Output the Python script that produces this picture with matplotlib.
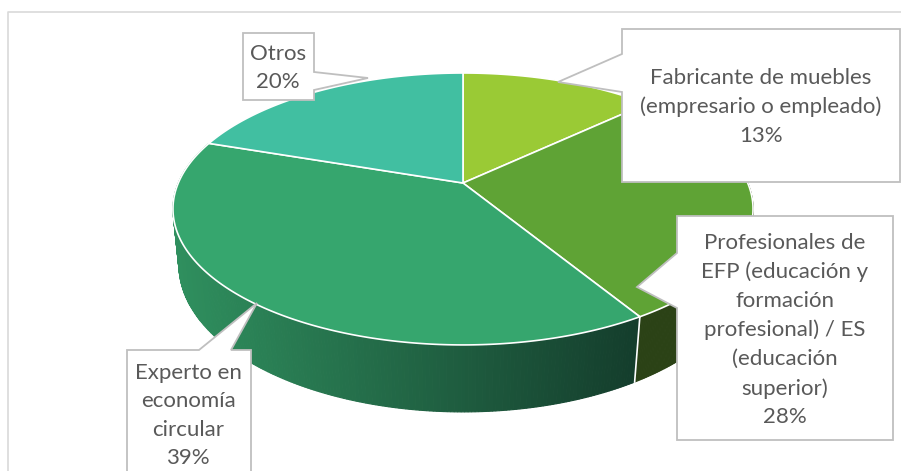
#!/usr/bin/env python3
# -*- coding: utf-8 -*-
import numpy as np
import matplotlib
matplotlib.use('Agg')
import matplotlib.pyplot as plt

# data
labels = ['Fabricante de muebles\n(empresario o empleado)',
          'Profesionales de\nEFP (educación y\nformación\nprofesional) / ES\n(educación\nsuperior)',
          'Experto en\neconomía\ncircular',
          'Otros']
values = [13.0, 28.3, 38.9, 19.8]

colors = ['#9ACA35', '#5FA335', '#36A66E', '#41BFA1']
side_left = ['#2B4216', '#2B4216', '#2F8F5E', '#2F8F5E']
side_right = ['#2B4216', '#2B4216', '#143D2C', '#143D2C']

# callout outlines (pixel positions), text centre goes with them
callouts = [
    ([(622, 29), (900, 29), (900, 182), (622, 182), (622, 92), (558, 82), (622, 54)], (761, 107)),
    ([(677, 216), (893, 216), (893, 440), (677, 440), (677, 308), (637, 287), (677, 253)], (785, 330)),
    ([(127, 350), (199, 350), (257, 303), (231, 350), (251, 350), (251, 480), (127, 480)], (188, 415.5)),
    ([(243, 33), (314, 33), (314, 72), (368, 78), (314, 90), (314, 100), (243, 100)], (278, 68)),
]


def project(theta, cx, cy, A, B, k):
    # clockwise angle from the top of the circle -> screen position
    x = np.sin(theta)
    y = np.cos(theta)
    w = 1 + k*y
    return cx + B*x/w, cy - A*y/w


def top_edge(theta):
    return project(theta, 463., 183., 131., 284.7, 0.191)


def bottom_edge(theta):
    return project(theta, 463., 238.5, 142.2, 279.4, 0.18)


def mix(c1, c2, t):
    c1 = np.array(matplotlib.colors.to_rgb(c1))
    c2 = np.array(matplotlib.colors.to_rgb(c2))
    return c1 + (c2 - c1)*t


fig = plt.figure(figsize=(9.01, 4.71), dpi=100)
ax = fig.add_axes([0, 0, 1, 1])
ax.set_xlim(0, 901)
ax.set_ylim(471, 0)
ax.axis('off')

# chart frame
ax.plot([7.5, 7.5, 901], [471, 11.5, 11.5], color='#D9D9D9', lw=1.2, zorder=1)

edges = np.cumsum([0] + values)/float(np.sum(values))*2*np.pi

# side wall, strips going round from the right of each slice to the left
for i in [1, 2]:
    th = np.linspace(edges[i], edges[i+1], 240)
    xt, yt = top_edge(th)
    xb, yb = bottom_edge(th)
    for j in range(len(th)-1):
        f = np.clip((xt[j] - 175.)/(640. - 175.), 0, 1)
        c = mix(side_left[i], side_right[i], f)
        ax.fill([xt[j], xt[j+1], xb[j+1], xb[j]], [yt[j], yt[j+1], yb[j+1], yb[j]],
                color=c, lw=0.8, zorder=2)

# white seam between slices on the wall
xt, yt = top_edge(edges[2])
xb, yb = bottom_edge(edges[2])
ax.plot([xt, xb], [yt, yb], color='white', lw=1.2, zorder=3)

# top face
for i in range(len(values)):
    th = np.linspace(edges[i], edges[i+1], 200)
    xs, ys = top_edge(th)
    ax.fill(np.r_[463., xs], np.r_[183., ys], facecolor=colors[i],
            edgecolor='white', lw=1.2, joinstyle='round', zorder=4)

# callouts
for (pts, centre), lab, val in zip(callouts, labels, values):
    px = [p[0] for p in pts]
    py = [p[1] for p in pts]
    ax.fill(px, py, facecolor='white', edgecolor='#BFBFBF', lw=1.3, zorder=5)
    ax.text(centre[0], centre[1], lab + '\n' + str(int(round(val))) + '%', ha='center', va='center',
            family='Lato', fontsize=16, color='#595959', linespacing=1.54, zorder=6)

plt.savefig('out.png', dpi=100)
plt.close()
